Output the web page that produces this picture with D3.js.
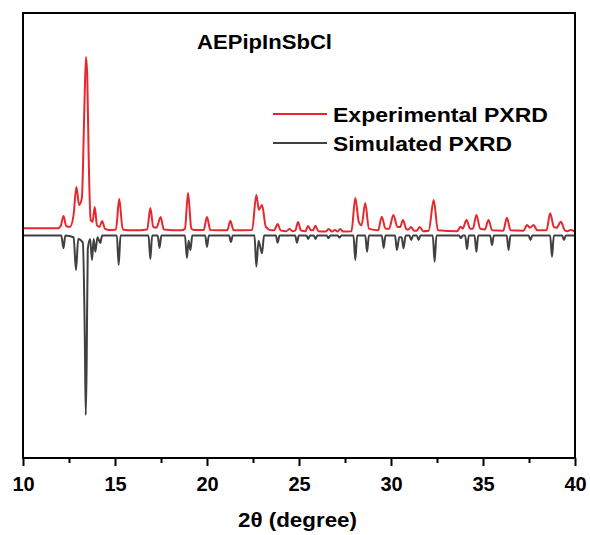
<!DOCTYPE html>
<html>
<head>
<meta charset="utf-8">
<script src="https://cdn.jsdelivr.net/npm/d3@7"></script>
<style>
  body { margin: 0; background: #fff; }
  text { font-family: Arial, "Liberation Sans", sans-serif; font-weight: bold; }
</style>
</head>
<body>
<div id="chart"></div>
<script>
// data: [2theta, intensity (a.u., offset applied)]
var expTrace = [
    [10.0, 4.2], [11.9, 4.2], [12.05, 5.5], [12.2, 11.4], [12.35, 5.5], [12.55, 5.0],
    [12.75, 12], [12.9, 28.3], [13.05, 17.8], [13.2, 22], [13.33, 72], [13.42, 104.3],
    [13.49, 94], [13.57, 45], [13.68, 9], [13.78, 8], [13.9, 16.7], [14.02, 6],
    [14.15, 5], [14.3, 8.5], [14.45, 4], [14.7, 3.2], [15.05, 3.5], [15.23, 21.3],
    [15.42, 3.5], [16.0, 3.0], [16.75, 3.5], [16.92, 16.1], [17.08, 5], [17.25, 4.5],
    [17.48, 10.8], [17.65, 3.5], [18.6, 3.0], [18.8, 4], [18.97, 24.8], [19.15, 4],
    [19.3, 3.2], [19.82, 3.2], [20.0, 10.8], [20.18, 3.2], [21.1, 3.0], [21.27, 8.5],
    [21.45, 3.0], [22.45, 3.2], [22.68, 23.7], [22.82, 15], [22.99, 17.8], [23.2, 5],
    [23.5, 3], [23.65, 3], [23.84, 6.7], [24.0, 3], [24.3, 2.5], [24.49, 3.8],
    [24.65, 2.5], [24.8, 3], [24.95, 7.9], [25.1, 3], [25.35, 2.5], [25.49, 5.6],
    [25.65, 3], [25.75, 3], [25.89, 5.7], [26.05, 2.5], [26.45, 2.3], [26.61, 3.8],
    [26.8, 2.3], [26.95, 3.2], [27.1, 2.3], [27.24, 3.8], [27.4, 2.3], [27.85, 2.5],
    [28.06, 21.9], [28.25, 8], [28.4, 6], [28.6, 19.0], [28.8, 4], [29.3, 3],
    [29.5, 11.0], [29.7, 4], [29.9, 4], [30.13, 12.0], [30.35, 5], [30.5, 5],
    [30.65, 9.1], [30.85, 3.5], [30.95, 3.5], [31.09, 5.0], [31.25, 2.8], [31.4, 2.8],
    [31.56, 5.0], [31.75, 2.5], [32.05, 2.8], [32.32, 20.7], [32.55, 3], [33.6, 2.5],
    [33.77, 5.1], [33.9, 4], [34.1, 9.1], [34.3, 4], [34.45, 4], [34.64, 12.0],
    [34.85, 4], [35.1, 3.5], [35.3, 9.1], [35.5, 3], [36.1, 2.8], [36.3, 10.4],
    [36.5, 3], [37.2, 2.8], [37.39, 6.1], [37.55, 4.5], [37.75, 6.1], [37.95, 3],
    [38.45, 3], [38.65, 13.0], [38.85, 5], [39.0, 4.5], [39.23, 8.1], [39.45, 3],
    [39.6, 2.5], [39.74, 3.2], [40.0, 2.3]
];

var simTrace = [
    [10.0, 0], [12.08, 0], [12.2, -7.5], [12.3, 0], [12.75, -1], [12.88, -20.2],
    [13.0, -2], [13.25, -4], [13.36, -60], [13.41, -104.9], [13.46, -75], [13.52, -8],
    [13.65, -2], [13.75, -14.3], [13.84, -2], [13.93, -9.5], [14.05, -1], [14.2, -4.4],
    [14.3, 0], [15.1, 0], [15.2, -17.2], [15.3, 0], [16.82, 0], [16.92, -13.7],
    [17.02, 0], [17.32, 0], [17.42, -7.3], [17.52, 0], [18.8, 0], [18.91, -13.1],
    [19.0, -3], [19.1, -8.5], [19.2, 0], [19.9, 0], [20.0, -6.7], [20.1, 0],
    [21.2, 0], [21.3, -3.8], [21.4, 0], [22.58, 0], [22.68, -18.2], [22.8, -3],
    [22.99, -10.4], [23.1, 0], [23.74, 0], [23.84, -4.2], [23.94, 0], [24.79, 0],
    [24.89, -4.2], [24.99, 0], [25.4, 0], [25.5, -2], [25.6, 0], [25.8, 0],
    [25.9, -2], [26.0, 0], [26.5, 0], [26.6, -1.5], [26.7, 0], [27.1, 0],
    [27.2, -1.2], [27.3, 0], [27.96, 0], [28.06, -14.3], [28.16, 0], [28.6, 0],
    [28.7, -9.5], [28.8, 0], [29.5, 0], [29.6, -7.3], [29.7, 0], [30.22, 0],
    [30.32, -8.5], [30.45, -1], [30.58, -1], [30.68, -7.5], [30.8, 0], [31.0, 0],
    [31.1, -2.6], [31.2, 0], [31.4, 0], [31.5, -2.6], [31.6, 0], [32.27, 0],
    [32.37, -15.3], [32.47, 0], [33.7, 0], [33.8, -1.5], [33.9, 0], [34.03, 0],
    [34.13, -8.1], [34.23, 0], [34.54, 0], [34.64, -9.5], [34.74, 0], [35.39, 0],
    [35.49, -5.6], [35.59, 0], [36.29, 0], [36.39, -8.5], [36.49, 0], [37.48, 0],
    [37.58, -2.6], [37.68, 0], [38.65, 0], [38.75, -12.4], [38.85, 0], [39.3, 0],
    [39.4, -2.6], [39.5, 0], [40.0, 0]
];

var xTicks = [10, 15, 20, 25, 30, 35, 40];
var xMinorTicks = [12.5, 17.5, 22.5, 27.5, 32.5, 37.5];
var seriesNames = ["Experimental PXRD", "Simulated PXRD"];
var seriesColors = ["#e8272d", "#404040"];

// set the dimensions and margins of the graph
var margin = {top: 13, right: 15, bottom: 77, left: 23},
    width = 590 - margin.left - margin.right,
    height = 535 - margin.top - margin.bottom;

var svg = d3.select("#chart")
    .append("svg")
    .attr("width", 590)
    .attr("height", 535)
    .append("g")
    .attr("transform", "translate(" + margin.left + "," + margin.top + ")");

var x = d3.scaleLinear().domain([10, 40]).range([0, width]);
var y = d3.scaleLinear().domain([-130, 130]).range([height, 0]);

svg.append("clipPath").attr("id", "clip")
    .append("rect").attr("width", width).attr("height", height);

var line = d3.line()
    .x(function(d) { return x(d[0]); })
    .y(function(d) { return y(d[1]); })
    .curve(d3.curveMonotoneX);

[expTrace, simTrace].forEach(function(s, i) {
    svg.append("path")
        .datum(s)
        .attr("clip-path", "url(#clip)")
        .attr("fill", "none")
        .attr("stroke", seriesColors[i])
        .attr("stroke-width", 2)
        .attr("stroke-linejoin", "round")
        .attr("d", line);
});

// frame
svg.append("rect")
    .attr("width", width).attr("height", height)
    .attr("fill", "none").attr("stroke", "#000").attr("stroke-width", 2);

// X axis
var xAxis = svg.append("g")
    .attr("transform", "translate(0," + height + ")")
    .call(d3.axisBottom(x).tickValues(xTicks).tickSize(8).tickPadding(11).tickFormat(d3.format("d")));
xAxis.select(".domain").remove();
xAxis.selectAll("line").attr("stroke-width", 2);
xAxis.selectAll("text")
    .style("font-size", "20px")
    .style("font-weight", "bold")
    .attr("fill", "#000");

svg.append("g")
    .attr("transform", "translate(0," + height + ")")
    .call(d3.axisBottom(x).tickValues(xMinorTicks).tickSize(5).tickFormat(""))
    .call(function(g) { g.select(".domain").remove(); })
    .selectAll("line").attr("stroke-width", 2);

// axis title
svg.append("text")
    .attr("x", 238 - margin.left)
    .attr("y", 527 - margin.top)
    .attr("textLength", 119)
    .attr("lengthAdjust", "spacingAndGlyphs")
    .style("font-size", "19.5px")
    .text("2θ (degree)");

// title
svg.append("text")
    .attr("x", 197 - margin.left)
    .attr("y", 49 - margin.top)
    .attr("textLength", 135)
    .attr("lengthAdjust", "spacingAndGlyphs")
    .style("font-size", "20px")
    .text("AEPipInSbCl");

// legend
var legendWidths = [215, 179];
var legend = svg.selectAll(".legend")
    .data(seriesNames)
    .enter()
    .append("g")
    .attr("transform", function(d, i) { return "translate(0," + (114 - margin.top + i * 29) + ")"; });
legend.append("line")
    .attr("x1", 273 - margin.left).attr("x2", 327 - margin.left)
    .attr("stroke", function(d, i) { return seriesColors[i]; })
    .attr("stroke-width", 2);
legend.append("text")
    .attr("x", 333 - margin.left)
    .attr("y", 7.5)
    .attr("textLength", function(d, i) { return legendWidths[i]; })
    .attr("lengthAdjust", "spacingAndGlyphs")
    .style("font-size", "21px")
    .text(function(d) { return d; });
</script>
</body>
</html>
